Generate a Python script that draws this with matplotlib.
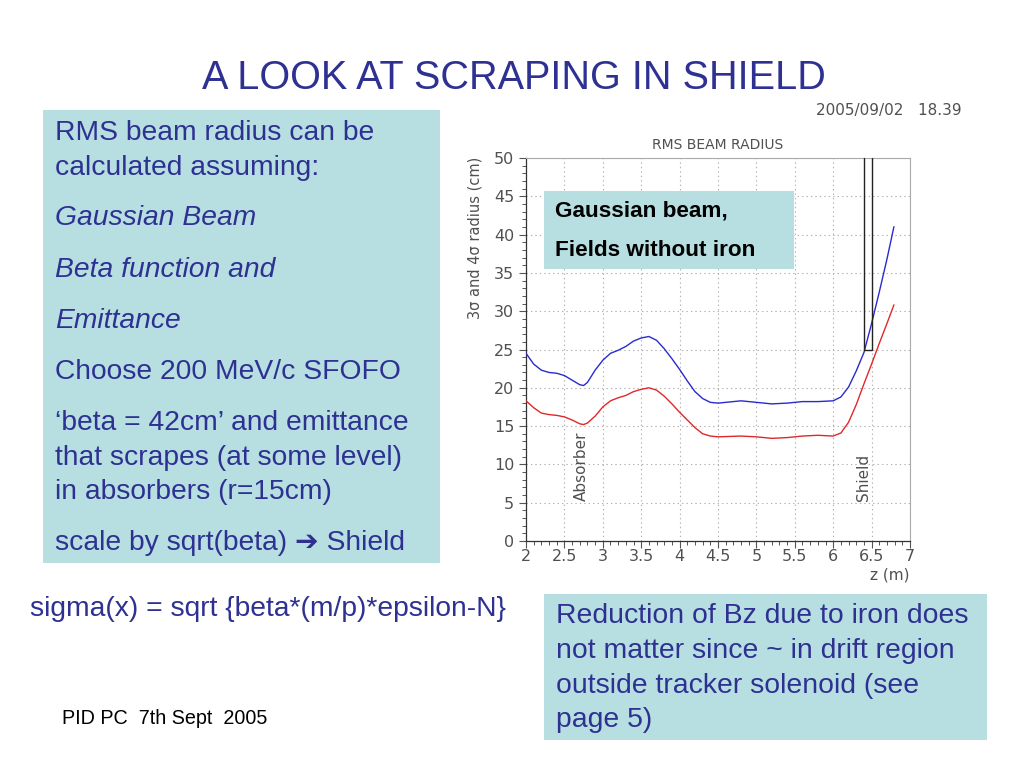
import matplotlib
matplotlib.use("Agg")
import matplotlib.pyplot as plt
from matplotlib.patches import Rectangle

# ---- data ----
z_blue = [2.0, 2.1, 2.2, 2.3, 2.4, 2.5, 2.6, 2.7, 2.75, 2.8, 2.9, 3.0, 3.1, 3.2, 3.3, 3.4,
          3.5, 3.6, 3.7, 3.8, 3.9, 4.0, 4.1, 4.2, 4.3, 4.4, 4.5, 4.6, 4.8, 5.0, 5.2, 5.4,
          5.6, 5.8, 6.0, 6.1, 6.2, 6.3, 6.4, 6.5, 6.6, 6.7, 6.79]
r_blue = [24.5, 23.1, 22.3, 22.0, 21.9, 21.6, 21.0, 20.4, 20.3, 20.7, 22.3, 23.6, 24.5, 24.9, 25.4, 26.1,
          26.5, 26.7, 26.2, 25.1, 23.8, 22.4, 20.9, 19.5, 18.6, 18.1, 18.0, 18.1, 18.3, 18.1, 17.9, 18.0,
          18.2, 18.2, 18.3, 18.8, 20.1, 22.2, 24.6, 28.4, 32.5, 36.8, 41.0]
z_red = [2.0, 2.1, 2.2, 2.3, 2.4, 2.5, 2.6, 2.7, 2.75, 2.8, 2.9, 3.0, 3.1, 3.2, 3.3, 3.4,
         3.5, 3.6, 3.7, 3.8, 3.9, 4.0, 4.1, 4.2, 4.3, 4.4, 4.5, 4.8, 5.0, 5.2, 5.4, 5.6,
         5.8, 6.0, 6.1, 6.2, 6.3, 6.4, 6.5, 6.6, 6.7, 6.79]
r_red = [18.3, 17.4, 16.7, 16.5, 16.4, 16.2, 15.8, 15.3, 15.2, 15.4, 16.3, 17.5, 18.3, 18.7, 19.0, 19.5,
         19.8, 20.0, 19.7, 18.9, 17.9, 16.8, 15.8, 14.8, 14.0, 13.7, 13.6, 13.7, 13.6, 13.4, 13.5, 13.7,
         13.8, 13.7, 14.1, 15.5, 17.8, 20.5, 23.1, 25.8, 28.4, 30.8]
x_ticks = [2, 2.5, 3, 3.5, 4, 4.5, 5, 5.5, 6, 6.5, 7]
x_tick_labels = ["2", "2.5", "3", "3.5", "4", "4.5", "5", "5.5", "6", "6.5", "7"]
y_ticks = [0, 5, 10, 15, 20, 25, 30, 35, 40, 45, 50]
shield_z = [6.405, 6.51]
shield_r = [25, 50]
absorber_z = 2.70

left_lines = [
    ("RMS beam radius can be", "normal", 133),
    ("calculated assuming:", "normal", 168),
    ("Gaussian Beam", "italic", 218),
    ("Beta function and", "italic", 270),
    ("Emittance", "italic", 321),
    ("Choose 200 MeV/c SFOFO", "normal", 372),
    ("\u2018beta = 42cm\u2019 and emittance", "normal", 423),
    ("that scrapes (at some level)", "normal", 458),
    ("in absorbers (r=15cm)", "normal", 492),
    ("scale by sqrt(beta) \u2794 Shield", "normal", 543),
]
right_lines = [
    ("Reduction of Bz due to iron does", 616),
    ("not matter since ~ in drift region", 651),
    ("outside tracker solenoid (see", 686),
    ("page 5)", 720),
]

W, H = 1024, 768
SLIDE_BLUE = "#2e3192"
BOX = "#b7dfe1"
FONT = ["Liberation Sans", "DejaVu Sans"]
GREY_TXT = "#505050"

fig = plt.figure(figsize=(W / 100, H / 100), dpi=100)
fig.patch.set_facecolor("white")

def fx(x):
    return x / W

def fy(y):
    return 1 - y / H

# slide title
fig.text(fx(514), fy(78), "A LOOK AT SCRAPING IN SHIELD", ha="center", va="center",
         fontsize=28.5, color=SLIDE_BLUE, family=FONT)
fig.text(fx(962), fy(110), "2005/09/02   18.39", ha="right", va="center",
         fontsize=11, color=GREY_TXT, family="DejaVu Sans")

# left box
fig.patches.append(Rectangle((fx(43), fy(563)), fx(440) - fx(43), fy(110) - fy(563),
                             transform=fig.transFigure, facecolor=BOX, edgecolor="none", zorder=0))
for txt, style, y in left_lines:
    fig.text(fx(55), fy(y), txt, ha="left", va="center", fontsize=20.3, style=style,
             color=SLIDE_BLUE, family=FONT)

# right box
fig.patches.append(Rectangle((fx(544), fy(740)), fx(987) - fx(544), fy(594) - fy(740),
                             transform=fig.transFigure, facecolor=BOX, edgecolor="none", zorder=0))
for txt, y in right_lines:
    fig.text(fx(556), fy(y), txt, ha="left", va="center", fontsize=20.4,
             color=SLIDE_BLUE, family=FONT)

fig.text(fx(30), fy(609), "sigma(x) = sqrt {beta*(m/p)*epsilon-N}", ha="left", va="center",
         fontsize=20.3, color=SLIDE_BLUE, family=FONT)
fig.text(fx(62), fy(718), "PID PC  7th Sept  2005", ha="left", va="center",
         fontsize=14.2, color="black", family=FONT)

# chart axes
ax = fig.add_axes([fx(526), fy(541), fx(910) - fx(526), fy(158) - fy(541)])
ax.set_xlim(2, 7)
ax.set_ylim(0, 50)
ax.plot(z_blue, r_blue, color="#2a2ad0", lw=1.0, zorder=3)
ax.plot(z_red, r_red, color="#e02828", lw=1.0, zorder=3)
ax.add_patch(Rectangle((shield_z[0], shield_r[0]), shield_z[1] - shield_z[0],
                       shield_r[1] - shield_r[0] + 2, facecolor="none",
                       edgecolor="#222222", lw=1.0, zorder=4, clip_on=True))

ax.set_xticks(x_ticks)
ax.set_xticklabels(x_tick_labels)
ax.set_yticks(y_ticks)
ax.set_xticks([2 + 0.1 * i for i in range(51)], minor=True)
ax.set_yticks(list(range(51)), minor=True)
ax.tick_params(which="major", direction="out", length=5, width=0.8, color="#555555",
               labelsize=11.5, labelcolor=GREY_TXT)
ax.tick_params(which="minor", direction="out", length=3, width=0.7, color="#555555")
ax.tick_params(axis="x", pad=0.5)
ax.tick_params(axis="y", pad=3.5)
for lab in ax.get_xticklabels() + ax.get_yticklabels():
    lab.set_family("DejaVu Sans")
ax.grid(True, which="major", color="#b0b0b0", ls=(0, (1.2, 2.8)), lw=0.8)
for s in ["left", "bottom"]:
    ax.spines[s].set_color("#333333")
    ax.spines[s].set_linewidth(0.9)
for s in ["top", "right"]:
    ax.spines[s].set_color("#aaaaaa")
    ax.spines[s].set_linewidth(0.8)

ax.text(absorber_z + 0.02, 5.2, "Absorber", rotation=90, ha="center", va="bottom",
        fontsize=11, color=GREY_TXT, family="DejaVu Sans")
ax.text(shield_z[0] - 0.005, 5.2, "Shield", rotation=90, ha="center", va="bottom",
        fontsize=11, color=GREY_TXT, family="DejaVu Sans")

fig.text(fx(718), fy(145), "RMS BEAM RADIUS", ha="center", va="center",
         fontsize=10, color=GREY_TXT, family="DejaVu Sans")
fig.text(fx(475), fy(238), "3\u03c3 and 4\u03c3 radius (cm)", ha="center", va="center",
         rotation=90, fontsize=10.5, color=GREY_TXT, family="DejaVu Sans")
fig.text(fx(910), fy(575), "z (m)", ha="right", va="center",
         fontsize=11, color=GREY_TXT, family="DejaVu Sans")

# gaussian beam box
fig.patches.append(Rectangle((fx(544), fy(269)), fx(794) - fx(544), fy(191) - fy(269),
                             transform=fig.transFigure, facecolor=BOX, edgecolor="none", zorder=5))
fig.text(fx(555), fy(211), "Gaussian beam,", ha="left", va="center", fontsize=16.2,
         weight="bold", color="black", family=FONT, zorder=6)
fig.text(fx(555), fy(251), "Fields without iron", ha="left", va="center", fontsize=16.2,
         weight="bold", color="black", family=FONT, zorder=6)

fig.savefig("out.png", dpi=100)
